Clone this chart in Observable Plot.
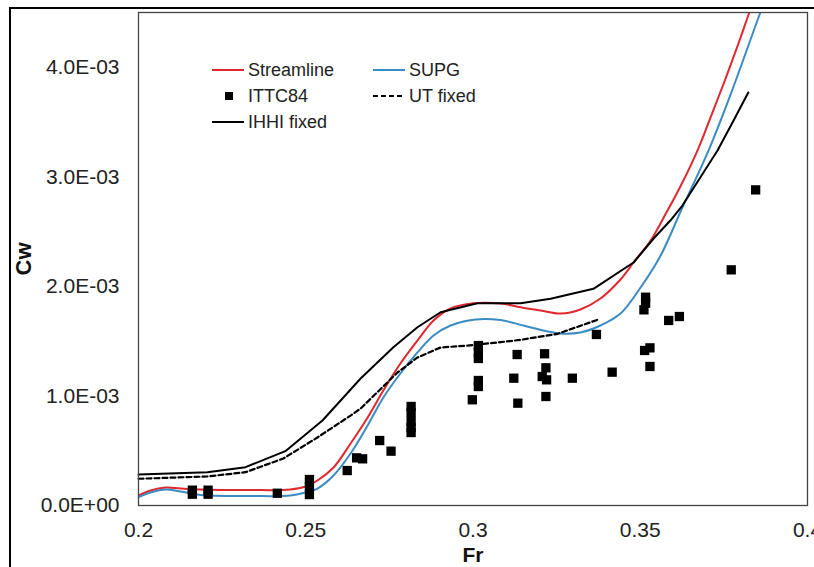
<!DOCTYPE html>
<html>
<head>
<meta charset="utf-8">
<script src="https://cdn.jsdelivr.net/npm/d3@7"></script>
<script src="https://cdn.jsdelivr.net/npm/@observablehq/plot@0.6"></script>
<style>
  html, body { margin: 0; padding: 0; background: #fff; overflow: hidden; }
  #wrap { position: relative; width: 814px; height: 567px; overflow: hidden; background: #fff;
          font-family: "Liberation Sans", Arial, sans-serif; }
  #border { position: absolute; left: 9px; top: 7px; width: 900px; height: 700px;
            border: 2px solid #000; box-sizing: border-box; }
  #chart { position: absolute; left: 0; top: 0; }
  .item { position: absolute; display: flex; align-items: center; font-size: 18px; color: #222;
          line-height: 1; white-space: nowrap; }
  .item svg { display: block; margin-right: 4px; }
</style>
</head>
<body>
<div id="wrap">
  <div id="border"></div>
  <div id="chart"></div>
</div>
<script>
// Wave resistance coefficient Cw (units of 1e-3) versus Froude number Fr

// Streamline solution
const streamFr = [0.2000, 0.2036, 0.2081, 0.2126, 0.2185, 0.2335, 0.2454, 0.2499, 0.2535, 0.2583,
  0.2634, 0.2685, 0.2732, 0.2783, 0.2834, 0.2882, 0.2933, 0.3001, 0.3082, 0.3142, 0.3202, 0.3262,
  0.3321, 0.3381, 0.3441, 0.3480, 0.3531, 0.3575, 0.3620, 0.3671, 0.3710, 0.3755, 0.3800, 0.3826, 0.3859];
const streamCw = [0.091, 0.137, 0.164, 0.155, 0.146, 0.141, 0.146, 0.173, 0.228, 0.347,
  0.566, 0.803, 1.050, 1.296, 1.506, 1.689, 1.798, 1.846, 1.844, 1.810, 1.780, 1.752,
  1.789, 1.889, 2.063, 2.218, 2.419, 2.656, 2.912, 3.240, 3.541, 3.897, 4.272, 4.500, 4.774];

// SUPG solution
const supgFr = [0.2000, 0.2036, 0.2081, 0.2126, 0.2185, 0.2335, 0.2454, 0.2499, 0.2535, 0.2583,
  0.2634, 0.2685, 0.2732, 0.2783, 0.2834, 0.2882, 0.2933, 0.3007, 0.3082, 0.3151, 0.3217, 0.3262,
  0.3321, 0.3381, 0.3441, 0.3501, 0.3561, 0.3626, 0.3704, 0.3770, 0.3859, 0.3890];
const supgCw = [0.076, 0.119, 0.146, 0.128, 0.096, 0.087, 0.091, 0.119, 0.155, 0.274,
  0.475, 0.730, 0.986, 1.205, 1.397, 1.552, 1.643, 1.698, 1.693, 1.643, 1.593, 1.570,
  1.579, 1.643, 1.752, 1.990, 2.282, 2.720, 3.240, 3.751, 4.500, 4.750];

// ITTC84 measurements
const ittcFr = [0.2161, 0.2161, 0.2208, 0.2208, 0.2415, 0.2511, 0.2511, 0.2511, 0.2624, 0.2652,
  0.2670, 0.2721, 0.2755, 0.2815, 0.2815, 0.2815, 0.2815, 0.2815, 0.2998, 0.3016, 0.3016, 0.3016,
  0.3016, 0.3016, 0.3122, 0.3132, 0.3134, 0.3214, 0.3218, 0.3207, 0.3220, 0.3218, 0.3297, 0.3369,
  0.3416, 0.3516, 0.3516, 0.3511, 0.3513, 0.3529, 0.3529, 0.3585, 0.3617, 0.3772, 0.3845];
const ittcCw = [0.140, 0.103, 0.140, 0.103, 0.112, 0.237, 0.173, 0.100, 0.319, 0.435,
  0.426, 0.593, 0.496, 0.904, 0.849, 0.767, 0.712, 0.666, 0.965, 1.460, 1.396, 1.342,
  1.141, 1.086, 1.162, 1.378, 0.934, 1.385, 1.257, 1.177, 1.147, 0.995, 1.162, 1.561,
  1.217, 1.901, 1.847, 1.786, 1.415, 1.439, 1.269, 1.689, 1.725, 2.151, 2.881];

// UT fixed
const utFr = [0.2000, 0.2206, 0.2320, 0.2433, 0.2535, 0.2634, 0.2664, 0.2744, 0.2774, 0.2834,
  0.2903, 0.2984, 0.3082, 0.3142, 0.3253, 0.3372];
const utCw = [0.244, 0.265, 0.304, 0.429, 0.621, 0.821, 0.885, 1.123, 1.214, 1.351,
  1.442, 1.460, 1.491, 1.512, 1.567, 1.695];

// IHHI fixed
const ihhiFr = [0.2000, 0.2206, 0.2320, 0.2439, 0.2550, 0.2664, 0.2762, 0.2834, 0.2903, 0.3013,
  0.3142, 0.3232, 0.3360, 0.3480, 0.3540, 0.3590, 0.3626, 0.3689, 0.3731, 0.3779, 0.3823];
const ihhiCw = [0.283, 0.304, 0.350, 0.496, 0.776, 1.159, 1.445, 1.627, 1.764, 1.846,
  1.846, 1.887, 1.978, 2.218, 2.437, 2.601, 2.738, 3.039, 3.240, 3.514, 3.770];

// Axis ticks
const xTicks = [0.2, 0.25, 0.3, 0.35, 0.4];
const xTickLabels = ["0.2", "0.25", "0.3", "0.35", "0.4"];
const yTicks = [0, 1, 2, 3, 4];
const yTickLabels = ["0.0E+00", "1.0E-03", "2.0E-03", "3.0E-03", "4.0E-03"];

const legendLabels = ["Streamline", "SUPG", "ITTC84", "UT fixed", "IHHI fixed"];

const RED = "#e0282e", BLUE = "#3a8cc4", BLACK = "#000";

const zip = (xs, ys) => xs.map((x, i) => ({Fr: x, Cw: ys[i]}));
const stream = zip(streamFr, streamCw);
const supg = zip(supgFr, supgCw);
const ittc = zip(ittcFr, ittcCw);
const ut = zip(utFr, utCw);
const ihhi = zip(ihhiFr, ihhiCw);

const chart = Plot.plot({
  width: 814,
  height: 567,
  marginLeft: 138,
  marginRight: 7,
  marginTop: 12,
  marginBottom: 62,
  style: {fontFamily: "'Liberation Sans', Arial, sans-serif", fontSize: "21px", color: "#222",
          background: "transparent", overflow: "visible"},
  x: {domain: [0.2, 0.4], ticks: xTicks, tickFormat: d => xTickLabels[xTicks.indexOf(d)],
      tickSize: 0, tickPadding: 17, label: null},
  y: {domain: [0, 4.5], ticks: yTicks, tickFormat: d => yTickLabels[yTicks.indexOf(d)],
      tickSize: 0, tickPadding: 19, label: null},
  marks: [
    Plot.line(stream, {x: "Fr", y: "Cw", stroke: RED, strokeWidth: 2, curve: "catmull-rom", clip: true}),
    Plot.line(supg, {x: "Fr", y: "Cw", stroke: BLUE, strokeWidth: 2, curve: "catmull-rom", clip: true}),
    Plot.line(ut, {x: "Fr", y: "Cw", stroke: BLACK, strokeWidth: 2.2, strokeDasharray: "5,3"}),
    Plot.line(ihhi, {x: "Fr", y: "Cw", stroke: BLACK, strokeWidth: 2}),
    Plot.dot(ittc, {x: "Fr", y: "Cw", symbol: "square", r: 5.25, fill: BLACK}),
    Plot.frame({stroke: "#444", strokeWidth: 1.3}),
    Plot.text(["Cw"], {frameAnchor: "left", dx: -115, rotate: -90, textAnchor: "middle", lineAnchor: "middle",
                       fontSize: 22, fontWeight: "bold", fill: "#111"}),
    Plot.text(["Fr"], {frameAnchor: "bottom", dy: 50, textAnchor: "middle", lineAnchor: "middle",
                       fontSize: 21, fontWeight: "bold", fill: "#111"})
  ]
});
document.getElementById("chart").appendChild(chart);

// Legend inside the plot area, two columns
const swatches = [
  {stroke: RED, dash: null, square: false},
  {stroke: BLUE, dash: null, square: false},
  {stroke: null, dash: null, square: true},
  {stroke: BLACK, dash: "5,3", square: false},
  {stroke: BLACK, dash: null, square: false}
];
const wrap = document.getElementById("wrap");
legendLabels.forEach((label, i) => {
  const col = i % 2, row = Math.floor(i / 2);
  const s = swatches[i];
  const div = document.createElement("div");
  div.className = "item";
  div.style.left = (col ? 372 : 211) + "px";
  div.style.top = (60 + row * 26) + "px";
  div.style.height = "20px";
  const svg = d3.create("svg").attr("width", 33).attr("height", 20);
  if (s.square) {
    svg.append("rect").attr("x", 14).attr("y", 6).attr("width", 8).attr("height", 8).attr("fill", "#000");
  } else {
    svg.append("line").attr("x1", 1).attr("x2", 33).attr("y1", 10).attr("y2", 10)
      .attr("stroke", s.stroke).attr("stroke-width", 2)
      .attr("stroke-dasharray", s.dash);
  }
  div.appendChild(svg.node());
  const span = document.createElement("span");
  span.textContent = label;
  div.appendChild(span);
  wrap.appendChild(div);
});
</script>
</body>
</html>
